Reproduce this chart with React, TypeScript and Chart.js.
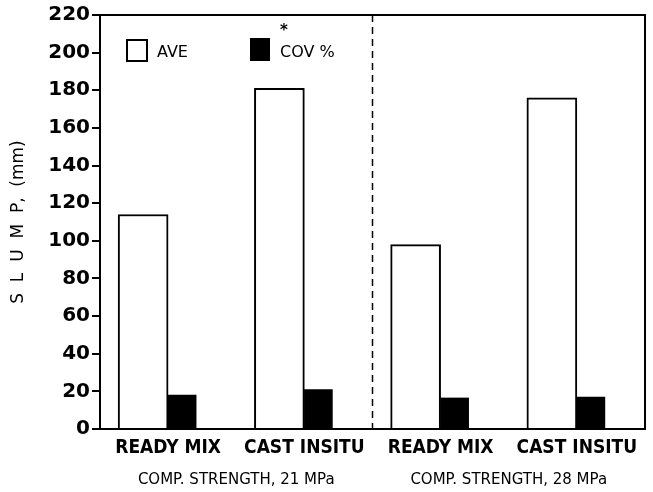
import React, { useEffect, useRef } from 'react';
import { Chart, registerables } from 'chart.js';

Chart.register(...registerables);

const categories = ['READY MIX', 'CAST INSITU', 'READY MIX', 'CAST INSITU'];
const groupLabels = ['COMP. STRENGTH, 21 MPa', 'COMP. STRENGTH, 28 MPa'];
const aveValues = [114, 181, 98, 176];
const covValues = [18, 21, 16.5, 17];
const yTitle = 'S  L  U  M  P,  (mm)';

const framePlugin = {
  id: 'frame',
  afterDraw(chart: any) {
    const { ctx, chartArea: ca, scales } = chart;
    const xs = scales.x;
    ctx.save();
    // frame top/right
    ctx.strokeStyle = '#000';
    ctx.lineWidth = 2;
    ctx.beginPath();
    ctx.moveTo(ca.left, ca.top);
    ctx.lineTo(ca.right, ca.top);
    ctx.lineTo(ca.right, ca.bottom);
    ctx.stroke();
    // dashed separator between the two strength groups
    const sepX = (xs.getPixelForValue(1) + xs.getPixelForValue(2)) / 2;
    ctx.setLineDash([7, 5]);
    ctx.lineWidth = 1.5;
    ctx.beginPath();
    ctx.moveTo(sepX, ca.top);
    ctx.lineTo(sepX, ca.bottom);
    ctx.stroke();
    ctx.setLineDash([]);
    // legend
    ctx.lineWidth = 2;
    ctx.fillStyle = '#fff';
    ctx.fillRect(ca.left + 27, ca.top + 25, 20, 21);
    ctx.strokeRect(ca.left + 27, ca.top + 25, 20, 21);
    ctx.fillStyle = '#000';
    ctx.fillRect(ca.left + 150, ca.top + 23, 20, 23);
    ctx.font = '16px "DejaVu Sans"';
    ctx.textBaseline = 'middle';
    ctx.textAlign = 'left';
    ctx.fillText('AVE', ca.left + 57, ca.top + 38);
    ctx.fillText('COV %', ca.left + 180, ca.top + 38);
    ctx.font = 'bold 15px "DejaVu Sans"';
    ctx.fillText('*', ca.left + 180, ca.top + 16);
    ctx.restore();
  },
};

export default function App() {
  const ref = useRef<HTMLCanvasElement>(null);
  useEffect(() => {
    if (!ref.current) return;
    const chart = new Chart(ref.current, {
      type: 'bar',
      data: {
        labels: categories,
        datasets: [
          {
            label: 'AVE',
            data: aveValues,
            backgroundColor: '#ffffff',
            borderColor: '#000000',
            borderWidth: 2,
            barThickness: 50,
          },
          {
            label: 'COV %',
            data: covValues,
            backgroundColor: '#000000',
            borderColor: '#000000',
            borderWidth: 0,
            barThickness: 28,
          },
        ],
      },
      options: {
        animation: false,
        responsive: false,
        layout: { padding: { left: 0, right: 8, top: 15, bottom: 0 } },
        plugins: {
          legend: { display: false },
          tooltip: { enabled: false },
        },
        scales: {
          x: {
            type: 'category',
            position: 'bottom',
            weight: 0,
            grid: { display: false, drawTicks: false },
            border: { display: true, color: '#000', width: 2 },
            ticks: {
              color: '#000',
              padding: 8,
              maxRotation: 0,
              autoSkip: false,
              font: { family: '"DejaVu Sans Condensed"', size: 19, weight: 'bold' },
            },
            afterFit(scale: any) {
              scale.height = 30;
            },
          },
          x2: {
            type: 'category',
            position: 'bottom',
            weight: 1,
            labels: groupLabels,
            grid: { display: false, drawTicks: false },
            border: { display: false },
            ticks: {
              color: '#000',
              padding: 12,
              maxRotation: 0,
              autoSkip: false,
              font: { family: '"DejaVu Sans"', size: 15 },
            },
            afterFit(scale: any) {
              scale.height = 33;
            },
          },
          y: {
            min: 0,
            max: 220,
            ticks: {
              stepSize: 20,
              color: '#000',
              padding: 2,
              font: { family: '"DejaVu Sans"', size: 20, weight: 'bold' },
            },
            grid: {
              drawOnChartArea: false,
              drawTicks: true,
              tickLength: 8,
              color: '#000',
              lineWidth: 2,
            },
            border: { display: true, color: '#000', width: 2 },
            title: {
              display: true,
              text: yTitle,
              color: '#000',
              padding: { top: 8, bottom: 0 },
              font: { family: '"DejaVu Sans"', size: 17 },
            },
            afterFit(scale: any) {
              scale.width = 100;
            },
          },
        },
      },
      plugins: [framePlugin],
    });
    return () => chart.destroy();
  }, []);
  return (
    <div style={{ position: 'fixed', left: 0, top: 0, width: 653, height: 492, background: '#fff' }}>
      <canvas ref={ref} width={653} height={492} />
    </div>
  );
}
